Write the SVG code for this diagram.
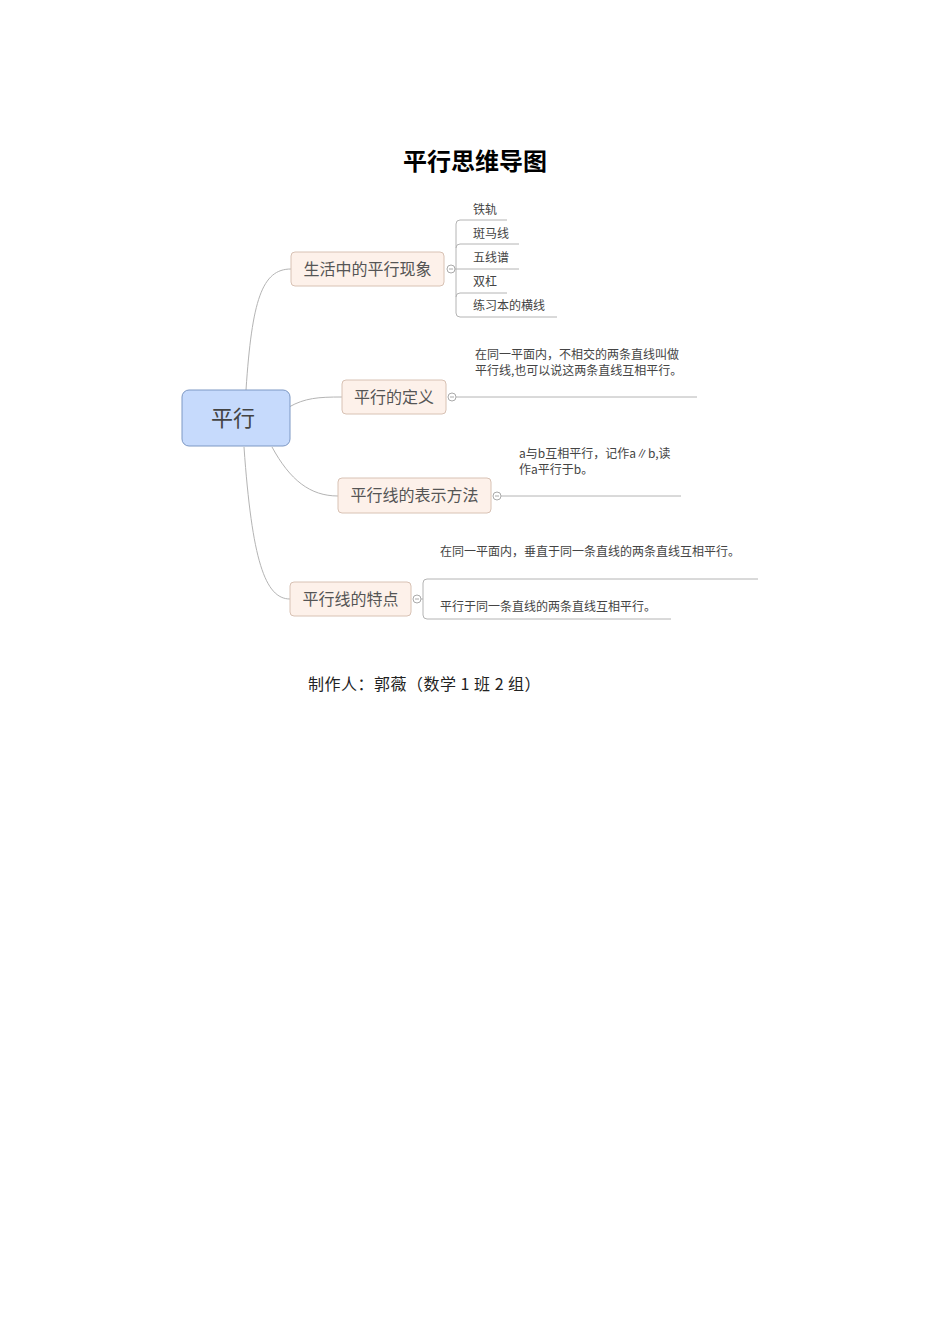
<svg xmlns="http://www.w3.org/2000/svg" width="950" height="1344" viewBox="0 0 950 1344">
<style>
.cjk{font-family:"Noto Sans CJK SC","Noto Sans",sans-serif}
.title{font-size:24px;font-weight:bold;fill:#000}
.branch rect{fill:#fdf1ea;stroke:#d8c2b4;stroke-width:1}
.branch text{font-size:16px;fill:#555}
.small{font-size:12px;fill:#444}
.conn{fill:none;stroke:#b4b4b4;stroke-width:1}
.knob{fill:#fff;stroke:#aaa;stroke-width:1}
.minus{stroke:#aaa;stroke-width:1}
</style>
<rect width="950" height="1344" fill="#fff"/>
<text class="cjk title" x="475" y="170" text-anchor="middle">平行思维导图</text>

<g id="connectors">
<path class="conn" d="M246,390 C252,300 262,269 291,269"/>
<path class="conn" d="M289,407 C305,398 318,397 342,397"/>
<path class="conn" d="M272,447 C290,480 310,496 338,496"/>
<path class="conn" d="M244,447 C252,560 265,599 290,599"/>
<path class="conn" d="M455,269 H456"/>
<path class="conn" d="M507,220 H460 Q456,220 456,224 V313 Q456,317 460,317 H557"/>
<path class="conn" d="M456,248 Q456,244 460,244 H519"/>
<path class="conn" d="M456,269 H519"/>
<path class="conn" d="M456,297 Q456,293 460,293 H507"/>
<path class="conn" d="M456,397 H697"/>
<path class="conn" d="M501,496 H681"/>
<path class="conn" d="M421,599 H423"/>
<path class="conn" d="M758,579 H427 Q423,579 423,583 V615 Q423,619 427,619 H671"/>
</g>

<g id="node-center">
<rect x="182" y="390" width="108" height="56" rx="7" fill="#c6dafc" stroke="#7d98c4" stroke-width="1"/>
<text class="cjk" x="233" y="426" text-anchor="middle" font-size="22" fill="#444">平行</text>
</g>

<g id="node-life" class="branch">
<rect x="291" y="252" width="153" height="34" rx="4"/>
<text class="cjk" x="367.5" y="275" text-anchor="middle">生活中的平行现象</text>
<circle class="knob" cx="451" cy="269" r="4"/>
<path class="minus" d="M449,269 H453"/>
</g>
<g id="life-items" class="cjk small">
<text x="473" y="214">铁轨</text>
<text x="473" y="238">斑马线</text>
<text x="473" y="262">五线谱</text>
<text x="473" y="286">双杠</text>
<text x="473" y="310">练习本的横线</text>
</g>

<g id="node-def" class="branch">
<rect x="342" y="380" width="104" height="34" rx="4"/>
<text class="cjk" x="394" y="403" text-anchor="middle">平行的定义</text>
<circle class="knob" cx="452" cy="397" r="4"/>
<path class="minus" d="M450,397 H454"/>
</g>
<g id="def-text" class="cjk small">
<text x="475" y="359">在同一平面内，不相交的两条直线叫做</text>
<text x="475" y="375">平行线,也可以说这两条直线互相平行。</text>
</g>

<g id="node-notation" class="branch">
<rect x="338" y="478" width="153" height="35" rx="4"/>
<text class="cjk" x="414.5" y="501" text-anchor="middle">平行线的表示方法</text>
<circle class="knob" cx="497" cy="496" r="4"/>
<path class="minus" d="M495,496 H499"/>
</g>
<g id="notation-text" class="cjk small">
<text x="519" y="458">a与b互相平行，记作a∥b,读</text>
<text x="519" y="474">作a平行于b。</text>
</g>

<g id="node-feature" class="branch">
<rect x="290" y="582" width="121" height="34" rx="4"/>
<text class="cjk" x="350.5" y="605" text-anchor="middle">平行线的特点</text>
<circle class="knob" cx="417" cy="599" r="4"/>
<path class="minus" d="M415,599 H419"/>
</g>
<g id="feature-text" class="cjk small">
<text x="440" y="556">在同一平面内，垂直于同一条直线的两条直线互相平行。</text>
<text x="440" y="611">平行于同一条直线的两条直线互相平行。</text>
</g>

<text class="cjk" x="308" y="690" font-size="16" fill="#222" letter-spacing="0.5">制作人：郭薇（数学 1 班 2 组）</text>
</svg>
